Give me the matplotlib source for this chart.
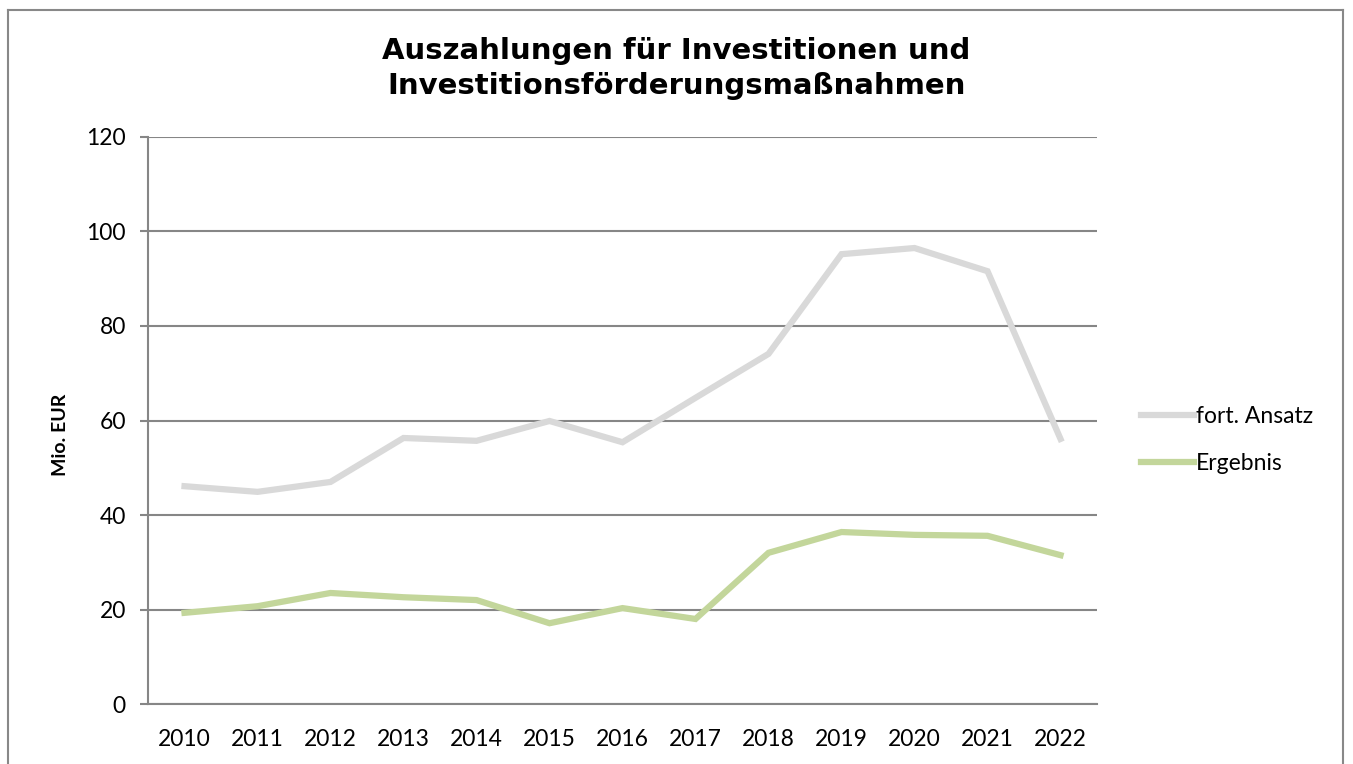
import matplotlib.pyplot as plt
from matplotlib.lines import Line2D

# Daten
jahre = ['2010', '2011', '2012', '2013', '2014', '2015', '2016',
         '2017', '2018', '2019', '2020', '2021', '2022']
fort_ansatz = [46.1, 44.9, 47.0, 56.3, 55.7, 59.9, 55.4, 64.8, 74.1, 95.2, 96.5, 91.6, 56.1]
ergebnis = [19.3, 20.7, 23.5, 22.6, 22.0, 17.1, 20.3, 18.0, 32.0, 36.4, 35.8, 35.6, 31.5]
y_ticks = [0, 20, 40, 60, 80, 100, 120]

plt.rcParams['font.family'] = ['Lato', 'DejaVu Sans']

fig = plt.figure(figsize=(13.53, 7.64), dpi=100)
ax = fig.add_axes([0.1094, 0.0785, 0.8108 - 0.1094, 0.8207 - 0.0785])

x = list(range(len(jahre)))
ax.plot(x, fort_ansatz, color='#D9D9D9', lw=4.5, solid_joinstyle='miter', label='fort. Ansatz')
ax.plot(x, ergebnis, color='#C3D69B', lw=4.5, solid_joinstyle='miter', label='Ergebnis')

ax.set_xlim(-0.5, len(jahre) - 0.5)
ax.set_ylim(0, 120)
ax.set_yticks(y_ticks)
ax.set_xticks(x)
ax.set_xticklabels(jahre)
ax.yaxis.grid(True, color='#868686', lw=1.5)
ax.set_axisbelow(True)
for s in ['top', 'right']:
    ax.spines[s].set_visible(False)
for s in ['left', 'bottom']:
    ax.spines[s].set_color('#868686')
    ax.spines[s].set_linewidth(1.5)
ax.tick_params(axis='y', length=6, width=1.5, color='#868686', labelsize=16.5, pad=10)
ax.tick_params(axis='x', length=0, labelsize=16.5, pad=18)
ax.set_ylabel('Mio. EUR', fontsize=14, fontweight='bold')
ax.yaxis.set_label_coords(-0.083, 0.474)

fig.suptitle('Auszahlungen für Investitionen und\nInvestitionsförderungsmaßnahmen',
             x=0.5, y=0.952, fontsize=21, fontweight='bold', family='DejaVu Sans',
             linespacing=1.35)

leg = ax.legend(loc='center left', bbox_to_anchor=(1.025, 0.466), frameon=False,
                fontsize=16.5, handlelength=2.3, handletextpad=0.1, labelspacing=1.15)

# äußerer Rahmen
rahmen = [Line2D([8 / 1353, 8 / 1353], [0, 1 - 10 / 764]),
          Line2D([8 / 1353, 1343 / 1353], [1 - 10 / 764, 1 - 10 / 764]),
          Line2D([1343 / 1353, 1343 / 1353], [1 - 10 / 764, 0])]
for l in rahmen:
    l.set_color('#888888')
    l.set_linewidth(1.5)
    l.set_transform(fig.transFigure)
    fig.add_artist(l)

fig.savefig('out.png', dpi=100)
